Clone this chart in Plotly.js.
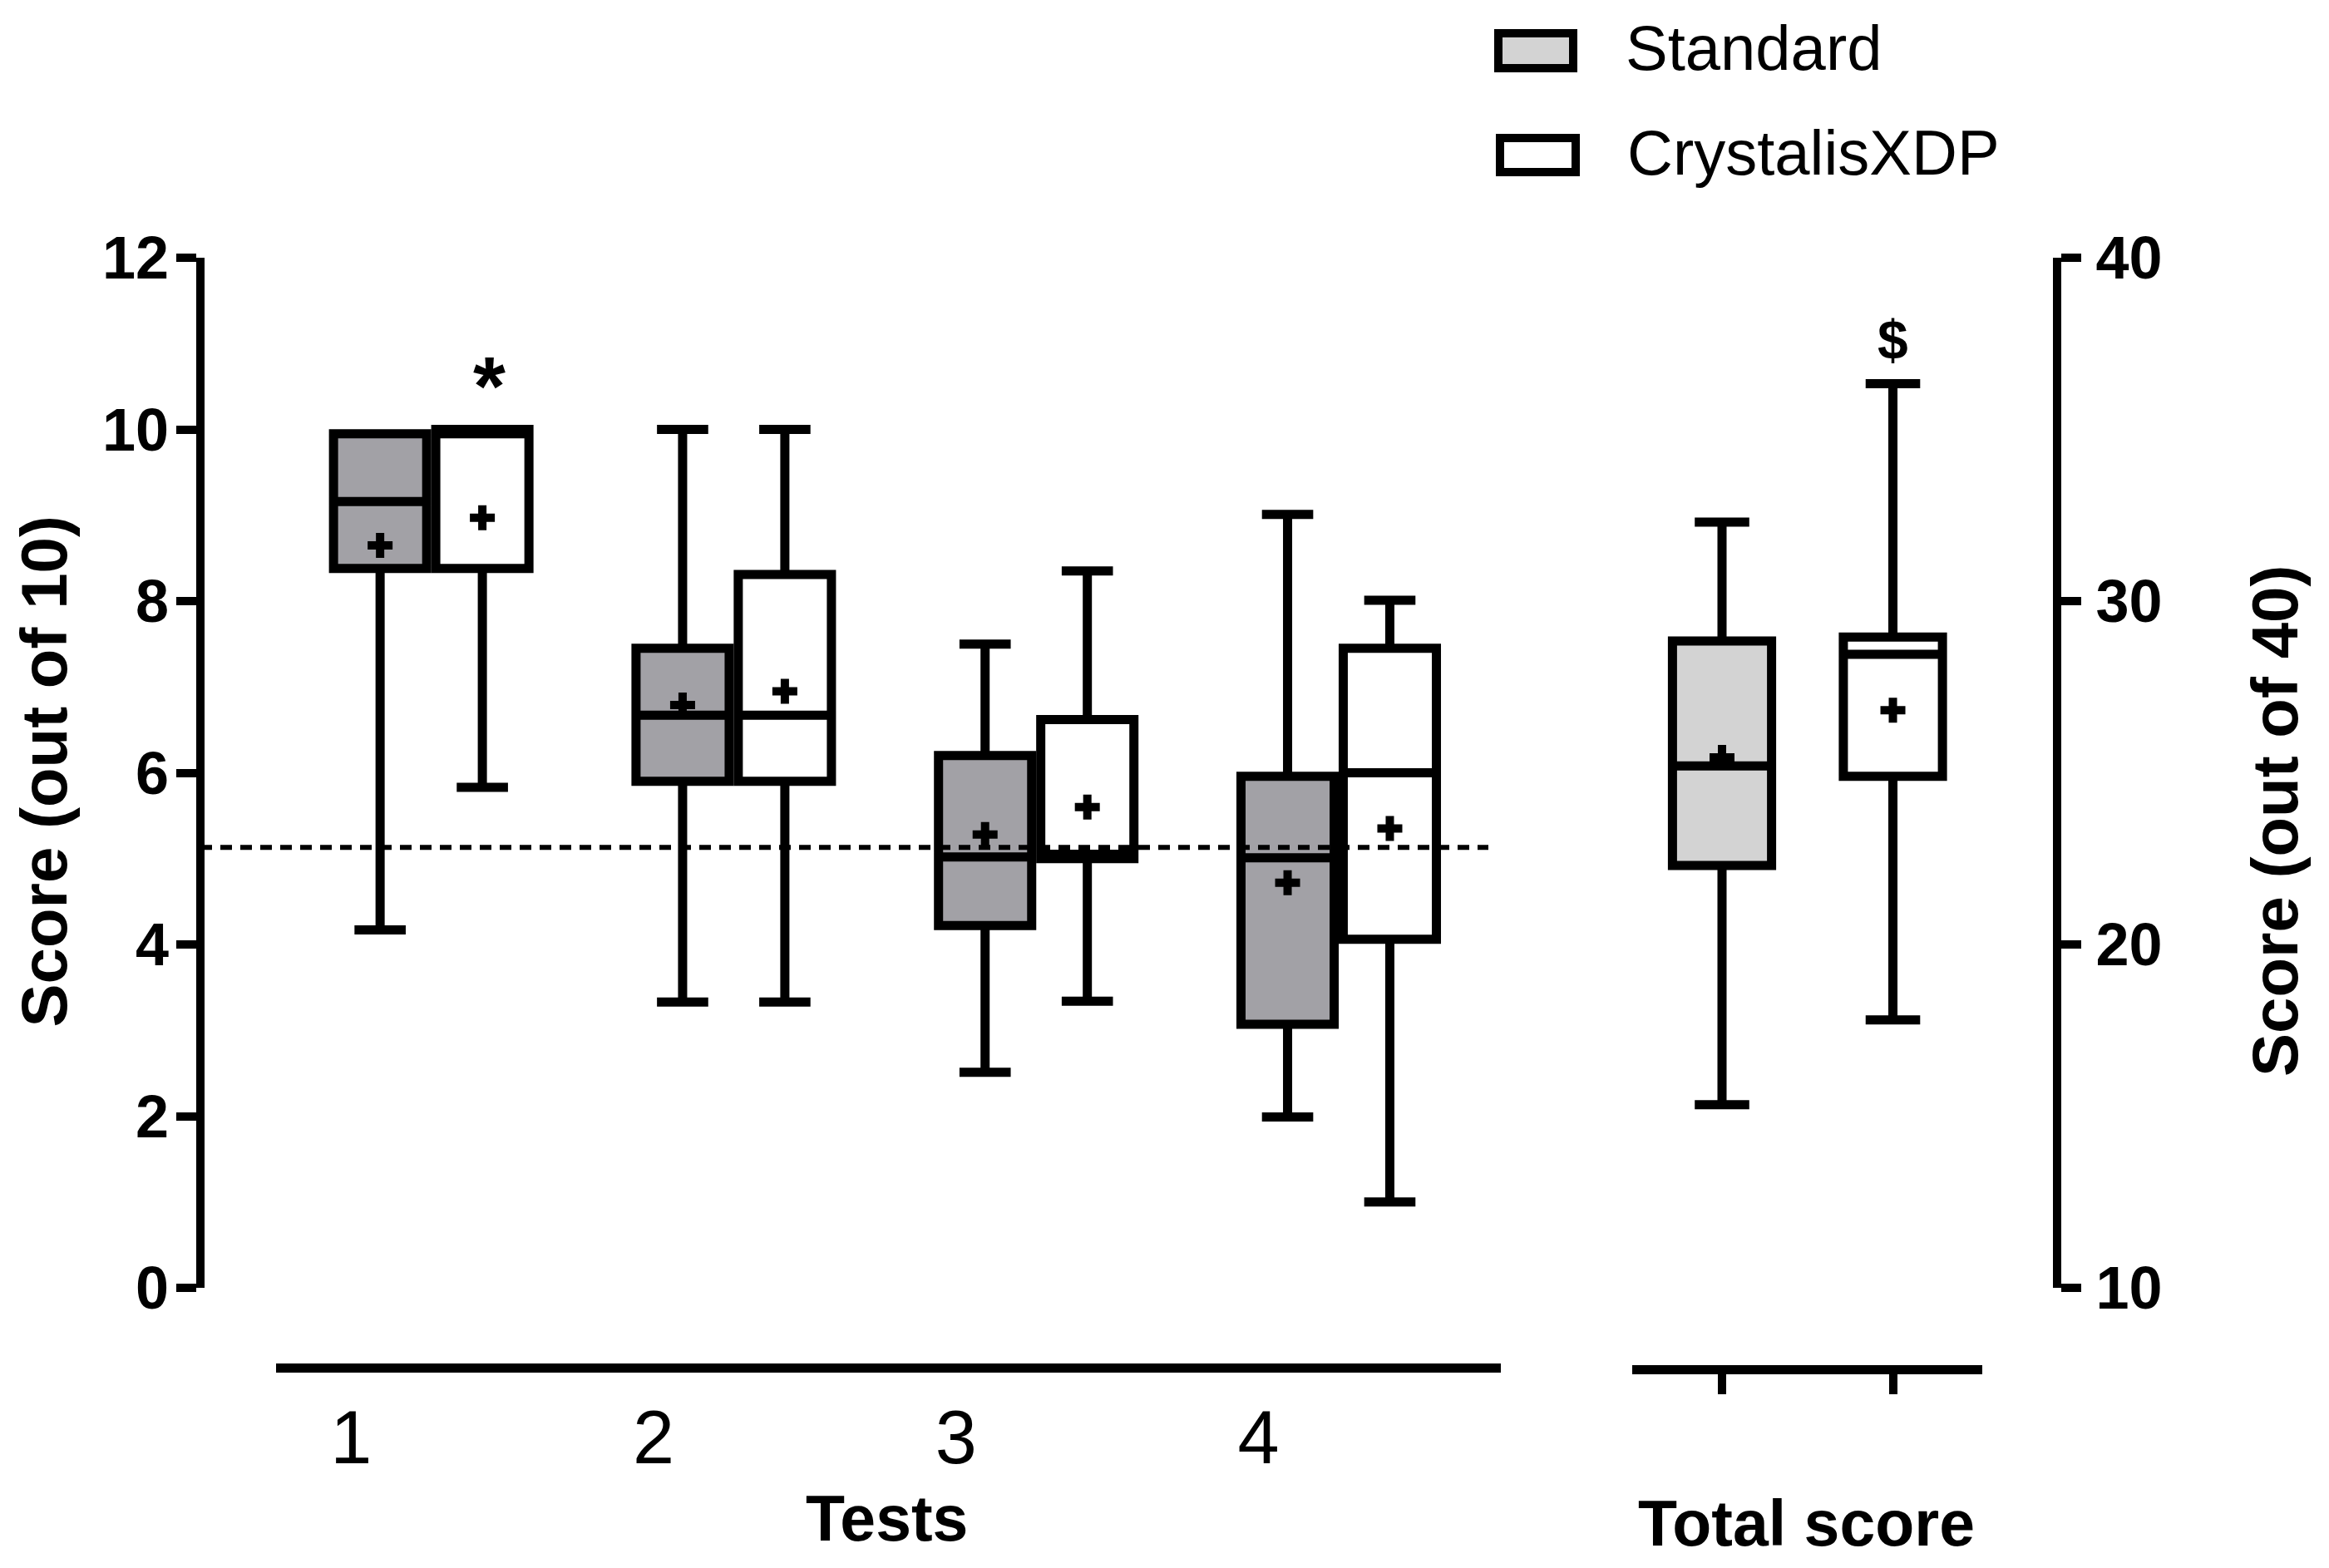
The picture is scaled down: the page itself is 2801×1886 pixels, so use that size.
<!DOCTYPE html>
<html>
<head>
<meta charset="utf-8">
<script src="https://cdn.plot.ly/plotly-3.0.1.min.js"></script>
<style>
html,body{margin:0;padding:0;background:#ffffff;}
#chart{width:2801px;height:1886px;}
</style>
</head>
<body>
<div id="chart"></div>
<script>
// ---------------- data ----------------
const tests = [1, 2, 3, 4];
const testLabels = ['1', '2', '3', '4'];

// Standard (score out of 10)
const stdQ1     = [8.38, 5.90, 4.22, 3.07];
const stdMedian = [9.16, 6.67, 5.02, 5.01];
const stdQ3     = [9.95, 7.45, 6.20, 5.96];
const stdLow    = [4.17, 3.33, 2.51, 1.99];
const stdHigh   = [9.95, 10.0, 7.50, 9.01];
const stdMean   = [8.65, 6.79, 5.28, 4.72];

// CrystalisXDP (score out of 10)
const cryQ1     = [8.38, 5.90, 5.00, 4.06];
const cryMedian = [9.95, 6.67, 5.05, 6.00];
const cryQ3     = [10.0, 8.31, 6.62, 7.45];
const cryLow    = [5.83, 3.33, 3.34, 1.00];
const cryHigh   = [10.0, 10.0, 8.35, 8.01];
const cryMean   = [8.97, 6.95, 5.60, 5.35];

// Total score (out of 40): [Standard, CrystalisXDP]
const totalGroups = ['Standard', 'CrystalisXDP'];
const totQ1     = [22.30, 24.90];
const totMedian = [25.20, 28.45];
const totQ3     = [28.84, 28.95];
const totLow    = [15.33, 17.80];
const totHigh   = [32.30, 36.33];
const totMean   = [25.45, 26.82];

const threshold = 5.13;          // dashed reference line (out of 10)
const sigTest = ['*'];           // marker above CrystalisXDP, test 1
const sigTestY = [10.72];
const sigTotal = ['$'];          // marker above CrystalisXDP, total score
const sigTotalY = [37.6];

// ---------------- layout helpers ----------------
const W = 2801, H = 1886;
const FONT = '"Liberation Sans", Arial, Helvetica, sans-serif';
const stdFillTests = '#A2A1A6';
const stdFillTotal = '#D3D3D3';
const off = 0.169;               // half distance between paired boxes
const xStd = tests.map(t => t - off);
const xCry = tests.map(t => t + off);
const totX = totalGroups.map((g, i) => i);

function boxTrace(name, x, q1, med, q3, lo, hi, fill, w, xa, ya) {
  return {
    type: 'box', name: name, x: x, q1: q1, median: med, q3: q3,
    lowerfence: lo, upperfence: hi,
    width: w, whiskerwidth: 0.55, boxpoints: false,
    fillcolor: fill, line: {color: '#000000', width: 11},
    xaxis: xa, yaxis: ya, showlegend: false, hoverinfo: 'skip'
  };
}
function meanTrace(name, x, y, xa, ya) {
  return {
    type: 'scatter', mode: 'markers', name: name + ' mean', x: x, y: y,
    marker: {symbol: 'cross', size: 25, color: '#000000', line: {width: 0}},
    xaxis: xa, yaxis: ya, showlegend: false, hoverinfo: 'skip'
  };
}

const data = [
  boxTrace('Standard', xStd, stdQ1, stdMedian, stdQ3, stdLow, stdHigh, stdFillTests, 0.308, 'x', 'y'),
  boxTrace('CrystalisXDP', xCry, cryQ1, cryMedian, cryQ3, cryLow, cryHigh, '#FFFFFF', 0.308, 'x', 'y'),
  boxTrace('Standard', [totX[0]], [totQ1[0]], [totMedian[0]], [totQ3[0]], [totLow[0]], [totHigh[0]], stdFillTotal, 0.58, 'x2', 'y2'),
  boxTrace('CrystalisXDP', [totX[1]], [totQ1[1]], [totMedian[1]], [totQ3[1]], [totLow[1]], [totHigh[1]], '#FFFFFF', 0.58, 'x2', 'y2'),
  meanTrace('Standard', xStd, stdMean, 'x', 'y'),
  meanTrace('CrystalisXDP', xCry, cryMean, 'x', 'y'),
  meanTrace('Total', totX, totMean, 'x2', 'y2')
];

const yDomain = [1 - 1549 / H, 1 - 310 / H];
const axBase = {
  showline: true, linecolor: '#000000', showgrid: false, zeroline: false,
  tickcolor: '#000000', fixedrange: true
};

const layout = {
  width: W, height: H,
  margin: {l: 0, r: 0, t: 0, b: 0},
  paper_bgcolor: '#ffffff', plot_bgcolor: 'rgba(0,0,0,0)',
  showlegend: false, boxmode: 'overlay',
  font: {family: FONT, color: '#000000'},
  xaxis: Object.assign({}, axBase, {
    domain: [332 / W, 1805 / W], range: [0.487, 4.536],
    anchor: 'free', position: 1 - 1644.5 / H, linewidth: 11,
    ticks: '', tickmode: 'array', tickvals: tests.map(t => t - 0.265), ticktext: testLabels,
    tickfont: {family: FONT, size: 90, color: '#000000'}, ticklabelstandoff: 1
  }),
  yaxis: Object.assign({}, axBase, {
    domain: yDomain, range: [0, 12], anchor: 'free', position: 240.5 / W,
    linewidth: 10, ticks: 'outside', ticklen: 24, tickwidth: 10,
    tickmode: 'linear', tick0: 0, dtick: 2,
    tickfont: {family: FONT, size: 72, weight: 'bold', color: '#000000'}, ticklabelstandoff: -6
  }),
  xaxis2: Object.assign({}, axBase, {
    domain: [1963 / W, 2384 / W], range: [-0.5255, 1.523],
    anchor: 'free', position: 1 - 1646.5 / H, linewidth: 11,
    ticks: 'outside', ticklen: 24, tickwidth: 10,
    tickmode: 'array', tickvals: totX, ticktext: totalGroups, showticklabels: false
  }),
  yaxis2: Object.assign({}, axBase, {
    domain: yDomain, range: [10, 40], anchor: 'free', position: 2474 / W, side: 'right',
    linewidth: 10, ticks: 'outside', ticklen: 24, tickwidth: 10,
    tickmode: 'linear', tick0: 10, dtick: 10,
    tickfont: {family: FONT, size: 72, weight: 'bold', color: '#000000'}, ticklabelstandoff: 3
  }),
  shapes: [
    {type: 'line', xref: 'paper', yref: 'y', x0: 241 / W, x1: 1790 / W, y0: threshold, y1: threshold,
     line: {color: '#000000', width: 6, dash: '14px,10px'}, layer: 'above'},
    // legend swatches
    {type: 'rect', xref: 'paper', yref: 'paper', x0: 1802 / W, x1: 1892 / W, y0: 1 - 82 / H, y1: 1 - 40 / H,
     line: {color: '#000000', width: 10}, fillcolor: stdFillTotal},
    {type: 'rect', xref: 'paper', yref: 'paper', x0: 1804 / W, x1: 1895 / W, y0: 1 - 207 / H, y1: 1 - 166 / H,
     line: {color: '#000000', width: 10}, fillcolor: '#FFFFFF'}
  ],
  annotations: [
    {text: sigTest[0], xref: 'x', yref: 'y', x: tests[0] + off, y: sigTestY[0], yshift: -22, xshift: 8,
     showarrow: false, font: {family: FONT, size: 100, weight: 'bold', color: '#000000'}},
    {text: sigTotal[0], xref: 'x2', yref: 'y2', x: totX[1], y: sigTotalY[0],
     showarrow: false, font: {family: FONT, size: 66, weight: 'bold', color: '#000000'}},
    {text: 'Tests', xref: 'paper', yref: 'paper', x: 1066 / W, y: 1 - 1825.5 / H,
     xanchor: 'center', yanchor: 'middle', showarrow: false,
     font: {family: FONT, size: 77, weight: 'bold', color: '#000000'}},
    {text: 'Total score', xref: 'paper', yref: 'paper', x: 2172 / W, y: 1 - 1832 / H,
     xanchor: 'center', yanchor: 'middle', showarrow: false,
     font: {family: FONT, size: 77, weight: 'bold', color: '#000000'}},
    {text: 'Score (out of 10)', xref: 'paper', yref: 'paper', x: 52 / W, y: 1 - 928.5 / H,
     xanchor: 'center', yanchor: 'middle', textangle: -90, showarrow: false,
     font: {family: FONT, size: 78, weight: 'bold', color: '#000000'}},
    {text: 'Score (out of 40)', xref: 'paper', yref: 'paper', x: 2736 / W, y: 1 - 988 / H,
     xanchor: 'center', yanchor: 'middle', textangle: -90, showarrow: false,
     font: {family: FONT, size: 78, weight: 'bold', color: '#000000'}},
    {text: totalGroups[0], xref: 'paper', yref: 'paper', x: 1953 / W, y: 1 - 57.5 / H,
     xanchor: 'left', yanchor: 'middle', showarrow: false,
     font: {family: FONT, size: 76, color: '#000000'}},
    {text: totalGroups[1], xref: 'paper', yref: 'paper', x: 1955 / W, y: 1 - 183 / H,
     xanchor: 'left', yanchor: 'middle', showarrow: false,
     font: {family: FONT, size: 76, color: '#000000'}}
  ]
};

Plotly.newPlot('chart', data, layout, {staticPlot: true, displayModeBar: false});
</script>
</body>
</html>
